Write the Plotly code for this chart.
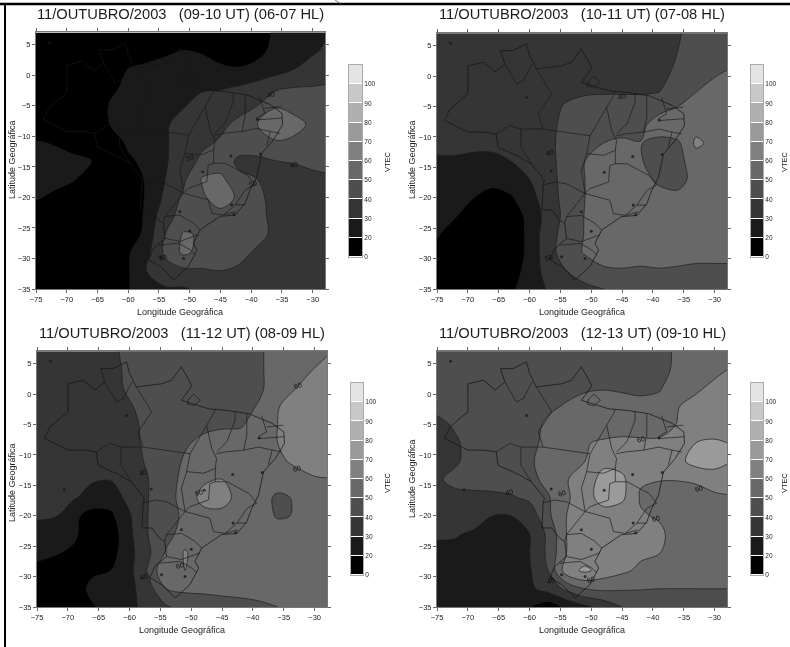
import numpy as np
import plotly.graph_objects as go

W, H = 790, 647
lons = [-75,-72,-69,-66,-63,-60,-57,-54,-51,-48,-45,-42,-39,-36,-33,-30,-28]
lats = [7,4,1,-2,-5,-8,-11,-14,-17,-20,-23,-26,-29,-32,-35]

vtec_09_10 = [
[8,8,8,8,8,8,8,8,8,8,8,10,14,22,24,27,29],
[6,6,6,6,8,10,14,18,20.5,19,15,12,17,23,26,29,31],
[5,5,5,6,12,20,23,24,25,24,22,21,23,26,30,33,35],
[5,5,5,7,17,23,25,26,27,29,29,31,34,38,40,40.5,41],
[6,6,6,8,21,24,26,28,29.5,33,36,37,40,49,45,45,45],
[7,7,7,9,20,23,26,29,33,35,38,42,50,57,55,47,46],
[21,19,15,10,13,22,25,29,34,38,41,43,46,49,47,45,44],
[23,24,23,20,10,18,23,29,35,42,43,39,38,40,41,43,44],
[24,23,21,15,8,14,21,30,38,51,53,41,40,37,35,37,38],
[21,18,14,8,7,13,21,32,42,48,56,48,42,37,34,33,33],
[14,12,10,7,7,12,22,37,43,47,46,45,44,36,33,32,32],
[12,11,9,7,7,11,24,40,51,49,46,45,44,37,33,32,32],
[10,10,9,7,7,19,27,42,52,47,45,44,38,34,32,31,31],
[9,9,8,7,7,19,30,36,38,39,40,38,34,32,31,31,31],
[8,8,7,6,6,19,29,29,29,32,33,33,32,31,31,31,31],
]
vtec_10_11 = [
[32,33,34,35,35,36,36,37,37,38,38,38,38,39.5,42,45,46],
[34,34,35,35,36,36,36,37,37,38,38,38,38,40,43,46,47],
[35,35,35,36,36,36,37,37,37,37,37,37,38,41,45,48,50],
[34,35,35,36,36,36,37,37,38,38,38,38,39,45,49,53,54],
[34,34,35,36,36,36,37,41,43,44,44,44,44,50,54,55,55],
[32,33,34,35,36,36,37,43,44,45,45,46,58,60,56,56,56],
[31,32,33,33,34,35,38,43,46,50,52,50.5,46,48,62,57,56],
[29.5,29,27,27,30,33,37,44,50,52,54,50.5,47,47,55,55,55],
[26,26,25,24,25,30,37,43,50,53,54,52,49,46,54,55,55],
[25,23,20,15,19,26,36,43,50,53,54,54,52,53,54,55,55],
[24,20.5,15,10,14,23,34,43,50.5,53,53,53,53,54,54,54,54],
[21,15,10,8,12,23,36,44,50.5,53,53,53,53,53,53,53,53],
[17,12,9,8,12,23,36,45,51,53,53,53,53,53,53,53,53],
[16,11,9,8,15,24,34,40,44,49,49.5,49,49.5,49,48,48,48],
[15,11,9,8,19,23,31,36,38,40,42,43,44,44,44,44,44],
]
vtec_11_12 = [
[34,35,36,37,38.5,42,43,44,45,46,46,47,49,53,55,56,59],
[34,35,36,37,38,41.5,43,44,45,46,46,47,49,53,56,60.5,63],
[34,35,36,37,38,41,43,44,45,46,46,47,49,53,60,64,66],
[33,34,35,36,37,39.5,42,44,46,47,47,48,50.5,59.5,64,66,66],
[33,34,35,36,37,38,42,45,46,48,49,49.5,52,60,65,66,66],
[33,33,34,35,36,38,41.5,45,49,52,53,52,53,60,64,65,66],
[32,32,33,34,35,37,41,46,51,53,54,54,55,59,61,65,66],
[32,32,31.5,31,30.5,35,39.8,47,52,58,60,55,55,56,58,59,59.5],
[31,31,31,26,25,33,39.8,47,53,64,64,56,55,48,51,55,56],
[31,30.5,22,16,18,29,40,46,52,56,57,55,55,49,50.5,55,56],
[27,25,22,12,14,28,40,47,54,55,55,55,55,55,55,55,55],
[22,21,18,10,16,27,38,51,61,54,54,54,54,54,54,54,54],
[18,15,14,18,20,27,41,60,60,54,54,54,54,54,54,54,54],
[15,13,14,23,24,27,36,50,52,52,52,52,52,52,52,52,52],
[14,13,14,19,24,27,34,39,43,45,47,48,49,50,51,51,51],
]
vtec_12_13 = [
[43,44,44,45,45,45,46,46,47,47,47,48,48,51,53,54,55],
[43,44,44,45,45,45,46,46,47,47,48,48,48.5,51,54,57,60],
[43,43,44,44,45,46,46,47,49,49.5,49,48.5,49.5,53,58,63,65],
[42,43,44,44,45,46,48,51,53,54,53,52,52,59.5,64,66,66],
[38,41,43,44,45,46,52,54,55,56,56,55,55,60.5,65,66,66],
[36,39,43,44,45,48,52,55,59.5,61,62,62,62,64,70,71,70],
[36,39,43,44,45,49,53,57,60,67,66,63,63,67,74,74,71],
[39,42,43,44,45,47,53,59.5,64,74,72,61,60.5,60.5,61.5,65,65],
[37,38,38,38,39,42,49,59,64,76,72,59,56,55,56,58,59],
[39.5,38,36,30,30,34,48,60,62,64,64,61,59,56,56,58,59.5],
[31.5,31,28,25,24,30,42,60,63,63,63,63,62,56,55,54,54],
[27,27,26,25,25,30,42,60,64,63,63,62,60.5,56,55,54,54],
[26,26,25,25,25,29,40,66,72,66,62,58,55,54,54,54,54],
[25,25,25,25,25,28,34,42,50,52,51,50.5,50,50,50,50,50],
[24,24,23,23,23,20.5,14,22,28,33,40,43,44,45,45,45,45],
]

titles = ["11/OUTUBRO/2003\u00a0\u00a0\u00a0(09-10 UT) (06-07 HL)",
          "11/OUTUBRO/2003\u00a0\u00a0\u00a0(10-11 UT) (07-08 HL)",
          "11/OUTUBRO/2003\u00a0\u00a0\u00a0(11-12 UT) (08-09 HL)",
          "11/OUTUBRO/2003\u00a0\u00a0\u00a0(12-13 UT) (09-10 HL)"]
bar_ticks = ["0","20","30","40","50","60","70","80","90","100"]
band_greys = ["#000000","#1a1a1a","#353535","#4e4e4e","#686868","#808080","#9a9a9a","#b0b0b0","#c8c8c8","#e4e4e4"]

border_lon = [-73.8,-72.9,-70,-70,-67.5,-65.6,-64,-64.7,-62.7,-60.5,-60,-58.9,-54.8,-53.2,-51.6,-49.9,-51,-51.6,-47.2,-44,-40.7,-36.9,-35,-34.9,-36.4,-38.3,-39.1,-40.2,-41,-42.6,-45.1,-48.3,-49.4,-48.8,-50.2,-52.6,-54.8,-56.7,-55.9,-54,-54.3,-55.1,-56.4,-58,-57.8,-57.6,-59.7,-61.6,-65.1,-65.4,-67.3,-70,-73.8]
border_lat = [-7.3,-5.4,-2.9,1.7,2.3,0.7,2,4.2,4.2,5.3,3.4,1.2,1.7,2.3,4.5,1.4,-0.2,-1,-2.4,-2.7,-3.2,-4.8,-6.2,-8.1,-10.6,-12.8,-16.6,-18.8,-21,-22.9,-23.1,-25.3,-27.5,-28.6,-31.3,-33.5,-31.3,-30.2,-28.3,-26.7,-24.2,-23.7,-22,-22,-18,-17.1,-14.4,-13.3,-11.7,-9.5,-9.2,-9.2,-7.3]
state_lines = [
 [(-50.4,-0.8),(-49.6,0),(-48.5,-1),(-49.6,-1.9),(-50.7,-1.6),(-50.4,-0.8)],
 [(-65.4,-9.5),(-63.2,-8.1),(-61.4,-8.7),(-61.4,-11.7),(-59.7,-14.4)],
 [(-61.4,-8.7),(-57.8,-8.7),(-50.2,-9.8)],
 [(-58.9,1.2),(-56.4,-2.9),(-58.6,-6.2),(-57.8,-8.7)],
 [(-64,2),(-62.1,-1.3),(-61,-0.7),(-59.6,2)],
 [(-50.2,-9.8),(-49.1,-7.8),(-47.5,-5.1),(-46.4,-3.2),(-46.1,-2.5)],
 [(-50.2,-9.8),(-50.75,-12.75),(-51.6,-15.5),(-51,-19.3)],
 [(-57.8,-17.9),(-55.9,-17.4),(-54,-17.7),(-51,-19.3)],
 [(-51,-19.3),(-54,-23.1),(-54.3,-24.2)],
 [(-54,-23.1),(-51.6,-22.9),(-49.4,-24.2),(-48.3,-25.3)],
 [(-54,-26.7),(-51.6,-27.2),(-48.6,-26.1)],
 [(-55.1,-27.8),(-51.8,-27.5),(-49.9,-28.6),(-49.1,-29.4)],
 [(-51,-19.3),(-47,-20.4),(-46.4,-22.6),(-44.5,-22.9),(-42.6,-21.2),(-41,-18.8),(-39.4,-17.9)],
 [(-51,-19.3),(-50.2,-18.5),(-47.2,-17.4),(-47,-14.7),(-46.1,-14.4)],
 [(-50.75,-12.75),(-48,-13),(-46.1,-12.2)],
 [(-47.5,-5.1),(-46.7,-8.9),(-45.9,-10.6),(-46.1,-12.2),(-46.1,-14.4),(-44.2,-14.4),(-40.7,-16.3),(-39.4,-17.9)],
 [(-42.6,-21.2),(-41,-21.2)],
 [(-44.5,-22.9),(-42.4,-22.3)],
 [(-42.9,-2.8),(-42.9,-4.3),(-44.2,-7.8),(-45.9,-9.5)],
 [(-45.9,-9.8),(-44.5,-9.5),(-41.5,-9.2),(-39.1,-8.7),(-36.9,-9.2),(-35.3,-9.5)],
 [(-41,-3.2),(-41,-6.7),(-41.5,-9.2)],
 [(-38.6,-3.5),(-37.8,-6.2),(-39.1,-7)],
 [(-37.8,-5.4),(-35.1,-5.1)],
 [(-39.1,-7.3),(-35,-7)],
 [(-36.9,-9.2),(-37.5,-11.6)],
]
station_lon = [-72.8,-70.6,-60.5,-43.3,-47.9,-43.2,-42.8,-50,-51,-54.8,-56.5,-51.6,-39,-38.5]
station_lat = [5.4,-15.7,-3.5,-13.2,-15.8,-21.2,-22.8,-25.5,-30,-29.7,-15.6,-22.3,-7.2,-12.9]
contour_labels = [
 [(-36.8,-3.1,"40"),(-33,-14.6,"40"),(-50,-13.5,"50"),(-39.7,-17.7,"50"),(-54.3,-29.8,"40")],
 [(-45,-3.3,"40"),(-56.7,-12.5,"40"),(-56.8,-29.9,"50")],
 [(-32.7,1.4,"60"),(-32.8,-12.2,"60"),(-57.8,-12.8,"40"),(-57.6,-30,"40"),(-48.7,-16.2,"60"),(-51.8,-28.2,"60")],
 [(-63.4,-16.1,"40"),(-54.8,-16.4,"60"),(-42,-7.5,"60"),(-32.5,-15.5,"60"),(-39.5,-20.5,"60"),(-50,-30.5,"60"),(-56.5,-30.7,"40")],
]

grids = [vtec_09_10, vtec_10_11, vtec_11_12, vtec_12_13]
for g in grids:
    assert len(g) == len(lats) and all(len(r) == len(lons) for r in g)

# pixel layout (x0,x1,y0,y1)
panels = [(36,325,32,289),(437,727,33,289),(37,327,351,607),(437,727,351,607)]
bars = [(349,362,65,257),(751,763,65,257),(351,363,383,575),(751,763,383,575)]
title_pos = [(180,14),(582,14),(182,333),(582,333)]
xt_pos = [(180,312),(582,312),(182,630),(582,630)]
yt_pos = [(12,160),(412,160),(12,483),(412,479)]
vt_pos = [(387,162),(784,162),(387,483),(784,483)]

scale = [[i/9, c] for i, c in enumerate(band_greys)]
FONT = "Liberation Sans, Arial, sans-serif"
fig = go.Figure()
layout = dict(width=W, height=H, margin=dict(l=0,r=0,t=0,b=0,autoexpand=False), autosize=False,
              paper_bgcolor="white", plot_bgcolor="white", showlegend=False,
              font=dict(family=FONT, color="#222"))
anns = []
def ann(px, py, text, size, rot=0, color="#222"):
    anns.append(dict(xref="paper", yref="paper", x=px/W, y=1-py/H, text=text, showarrow=False,
                     font=dict(size=size, color=color), textangle=rot, xanchor="center", yanchor="middle"))

for i in range(4):
    n = 2*i+1
    xa, ya = f"x{n}", f"y{n}"
    x0,x1,y0,y1 = panels[i]
    fig.add_trace(go.Contour(x=lons, y=lats, z=grids[i], xaxis=xa, yaxis=ya, zmin=15, zmax=105,
        autocontour=False, contours=dict(start=20, end=100, size=10, coloring="fill"),
        colorscale=scale, showscale=False, line=dict(color="#1e1e1e", width=0.7, smoothing=1.0), hoverinfo="skip"))
    fig.add_trace(go.Scatter(x=border_lon, y=border_lat, mode="lines", xaxis=xa, yaxis=ya,
        line=dict(color="#161616", width=0.9), opacity=0.85, hoverinfo="skip"))
    for seg in state_lines:
        fig.add_trace(go.Scatter(x=[p[0] for p in seg], y=[p[1] for p in seg], mode="lines", xaxis=xa, yaxis=ya,
            line=dict(color="#161616", width=0.8), opacity=0.8, hoverinfo="skip"))
    fig.add_trace(go.Scatter(x=station_lon, y=station_lat, mode="markers", xaxis=xa, yaxis=ya,
        marker=dict(size=3, color="#1a1a1a"), opacity=0.8, hoverinfo="skip"))
    for (lo, la, t) in contour_labels[i]:
        anns.append(dict(xref=xa, yref=ya, x=lo, y=la, text=t, showarrow=False,
                         font=dict(size=7, color="#0c0c0c"), textangle=-15))
    layout[f"xaxis{n}"] = dict(domain=[x0/W, x1/W], range=[-75,-28], tick0=-75, dtick=5, anchor=ya,
        ticks="outside", ticklen=3, tickcolor="#666", mirror="ticks", showline=True, linecolor="#777", linewidth=1,
        showgrid=False, zeroline=False, tickfont=dict(size=7.5, color="#222"))
    layout[f"yaxis{n}"] = dict(domain=[1-y1/H, 1-y0/H], range=[-35,7.1], tick0=-35, dtick=5, anchor=xa,
        ticks="outside", ticklen=3, tickcolor="#666", mirror="ticks", showline=True, linecolor="#777", linewidth=1,
        showgrid=False, zeroline=False, tickfont=dict(size=7.5, color="#222"))
    m = 2*i+2
    xb, yb = f"x{m}", f"y{m}"
    bx0,bx1,by0,by1 = bars[i]
    fig.add_trace(go.Heatmap(x=[0], y=[k+0.5 for k in range(10)], z=[[k] for k in range(10)],
        xaxis=xb, yaxis=yb, zmin=0, zmax=9, colorscale=scale, showscale=False, ygap=1, hoverinfo="skip"))
    layout[f"xaxis{m}"] = dict(domain=[bx0/W, bx1/W], range=[-0.5,0.5], anchor=yb, showticklabels=False,
        ticks="", showgrid=False, zeroline=False, showline=True, linecolor="#aaa", linewidth=1, mirror=True)
    layout[f"yaxis{m}"] = dict(domain=[1-by1/H, 1-by0/H], range=[0,10], anchor=xb, side="right",
        tickvals=list(range(10)), ticktext=bar_ticks, ticks="", showgrid=False, zeroline=False,
        showline=True, linecolor="#aaa", linewidth=1, mirror=True, tickfont=dict(size=6.5, color="#222"))
    ann(*title_pos[i], titles[i], 14.7, 0, "#1c1c1c")
    ann(*xt_pos[i], "Longitude Geográfica", 9, 0)
    ann(*yt_pos[i], "Latitude Geográfica", 9, -90)
    ann(*vt_pos[i], "VTEC", 7.5, -90)

shapes = [
 dict(type="line", xref="paper", yref="paper", x0=0, x1=1, y0=1-4/H, y1=1-4/H, line=dict(color="#000", width=2.5)),
 dict(type="line", xref="paper", yref="paper", x0=5/W, x1=5/W, y0=1-4/H, y1=0, line=dict(color="#000", width=2)),
 dict(type="line", xref="paper", yref="paper", x0=335/W, x1=341/W, y0=1, y1=1-4/H, line=dict(color="#444", width=0.7)),
]
layout["shapes"] = shapes
layout["annotations"] = anns
fig.update_layout(**layout)
fig.write_html("out.html", config=dict(displayModeBar=False),
               post_script="document.body.style.margin='0';document.body.style.overflow='hidden';"
                           "document.querySelectorAll('.main-svg').forEach(function(s){s.style.filter='blur(0.45px)';});")
